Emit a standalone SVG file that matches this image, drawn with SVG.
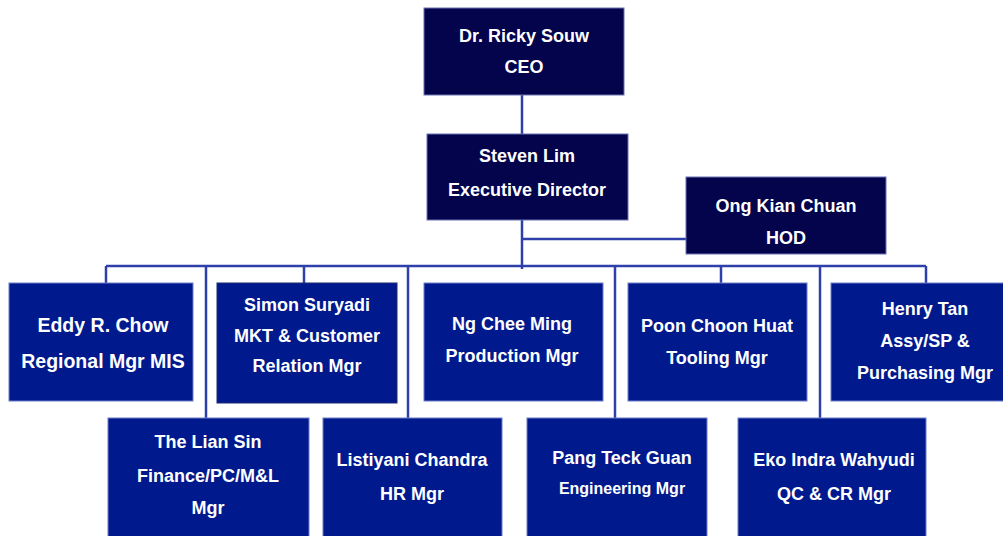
<svg xmlns="http://www.w3.org/2000/svg" width="1003" height="536" viewBox="0 0 1003 536">
<style>
.top{fill:#03044c;stroke:#6a70b0;stroke-width:1}
.box{fill:#001a8e;stroke:#6f7cc8;stroke-width:1}
text{font-family:"Liberation Sans",Arial,sans-serif;font-weight:bold;font-size:18px;fill:#ffffff;text-anchor:middle}
.ln{stroke:#2f40aa;stroke-width:2.5;fill:none}
</style>
<rect width="1003" height="536" fill="#ffffff"/>
<g id="connectors">
<path class="ln" d="M522 95V134M522 220V269M522 239H686"/>
<path class="ln" d="M106 266H926M106 266V283M206 266V418M304 266V283M408 266V418M615 266V418M721 266V283M820 266V418M926 266V283"/>
</g>
<g id="ceo"><rect class="top" x="424" y="8" width="200" height="87"/><text x="524" y="42">Dr. Ricky Souw</text><text x="524" y="73">CEO</text></g>
<g id="steven"><rect class="top" x="427" y="134" width="201" height="86"/><text x="527" y="162">Steven Lim</text><text x="527" y="196">Executive Director</text></g>
<g id="ong"><rect class="top" x="686" y="177" width="200" height="77"/><text x="786" y="212">Ong Kian Chuan</text><text x="786" y="244">HOD</text></g>
<g id="eddy"><rect class="box" x="9" y="283" width="184" height="118"/><text x="103" y="332" style="font-size:19.5px">Eddy R. Chow</text><text x="103" y="368" style="font-size:19.5px">Regional Mgr MIS</text></g>
<g id="simon"><rect class="box" x="217" y="283" width="180" height="120" style="stroke:#1c2a70"/><text x="307" y="311">Simon Suryadi</text><text x="307" y="342">MKT &amp; Customer</text><text x="307" y="372">Relation Mgr</text></g>
<g id="ng"><rect class="box" x="424" y="283" width="179" height="118"/><text x="512" y="330">Ng Chee Ming</text><text x="512" y="362">Production Mgr</text></g>
<g id="poon"><rect class="box" x="628" y="283" width="179" height="118"/><text x="717" y="332">Poon Choon Huat</text><text x="717" y="364">Tooling Mgr</text></g>
<g id="henry"><rect class="box" x="831" y="283" width="190" height="118"/><text x="925" y="315">Henry Tan</text><text x="925" y="347">Assy/SP &amp;</text><text x="925" y="379">Purchasing Mgr</text></g>
<g id="lian"><rect class="box" x="108" y="418" width="201" height="125"/><text x="208" y="448">The Lian Sin</text><text x="208" y="482">Finance/PC/M&amp;L</text><text x="208" y="514">Mgr</text></g>
<g id="listiyani"><rect class="box" x="323" y="418" width="179" height="125"/><text x="412" y="466">Listiyani Chandra</text><text x="412" y="500">HR Mgr</text></g>
<g id="pang"><rect class="box" x="527" y="418" width="180" height="125"/><text x="622" y="464">Pang Teck Guan</text><text x="622" y="494" style="font-size:16px">Engineering Mgr</text></g>
<g id="eko"><rect class="box" x="738" y="418" width="188" height="125"/><text x="834" y="466">Eko Indra Wahyudi</text><text x="834" y="500">QC &amp; CR Mgr</text></g>
</svg>
